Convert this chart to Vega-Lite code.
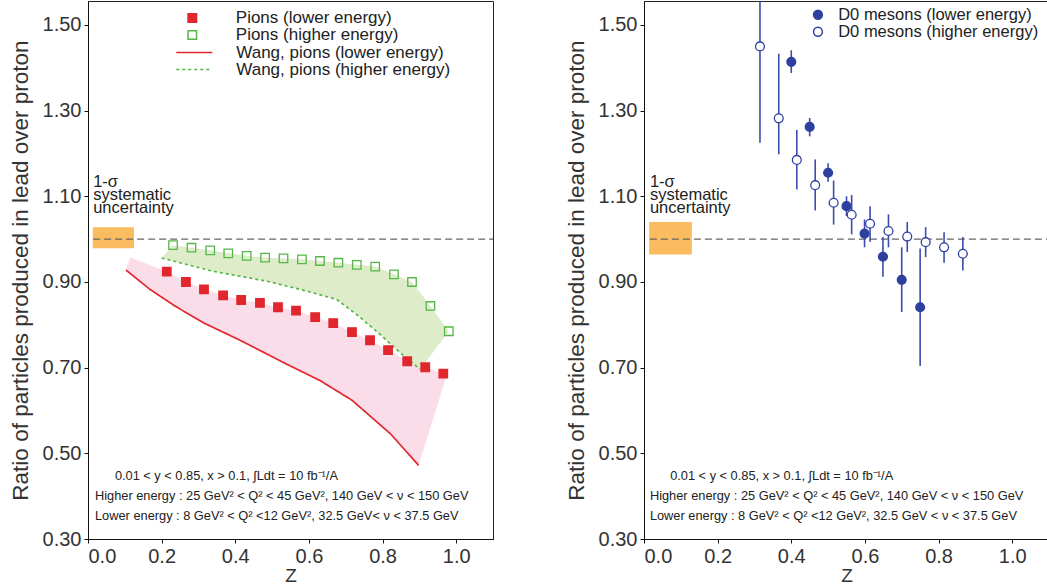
{
  "$schema": "https://vega.github.io/schema/vega-lite/v6.json",
  "background": "white",
  "padding": {"left": 8, "top": 0, "right": 0, "bottom": 0},
  "spacing": 69,
  "config": {
    "font": "Liberation Sans",
    "view": {"stroke": "#222", "strokeWidth": 1},
    "axis": {"grid": false, "domainColor": "#111", "tickColor": "#111", "tickSize": 4, "labelFontSize": 20, "labelColor": "#333", "titleColor": "#333", "titleFontWeight": "normal", "labelPadding": 3},
    "legend": {"padding": 0, "rowPadding": -2, "labelColor": "#222", "labelLimit": 400}
  },
  "resolve": {"scale": {"fill": "independent", "stroke": "independent"}, "legend": {"fill": "independent", "stroke": "independent"}},
  "datasets": {
    "pinkBand": [
      {"k": 1, "z": 0.103, "r": 0.928}, {"k": 2, "z": 0.114, "r": 0.958}, {"k": 3, "z": 0.214, "r": 0.924},
      {"k": 4, "z": 0.266, "r": 0.900}, {"k": 5, "z": 0.315, "r": 0.883}, {"k": 6, "z": 0.367, "r": 0.869},
      {"k": 7, "z": 0.416, "r": 0.858}, {"k": 8, "z": 0.467, "r": 0.851}, {"k": 9, "z": 0.516, "r": 0.841},
      {"k": 10, "z": 0.565, "r": 0.833}, {"k": 11, "z": 0.617, "r": 0.818}, {"k": 12, "z": 0.666, "r": 0.804},
      {"k": 13, "z": 0.717, "r": 0.783}, {"k": 14, "z": 0.766, "r": 0.764}, {"k": 15, "z": 0.815, "r": 0.741},
      {"k": 16, "z": 0.867, "r": 0.715}, {"k": 17, "z": 0.916, "r": 0.701}, {"k": 18, "z": 0.975, "r": 0.684},
      {"k": 19, "z": 0.898, "r": 0.472}, {"k": 20, "z": 0.821, "r": 0.546}, {"k": 21, "z": 0.717, "r": 0.624},
      {"k": 22, "z": 0.630, "r": 0.670}, {"k": 23, "z": 0.540, "r": 0.708}, {"k": 24, "z": 0.413, "r": 0.764},
      {"k": 25, "z": 0.313, "r": 0.805}, {"k": 26, "z": 0.236, "r": 0.844}, {"k": 27, "z": 0.168, "r": 0.883},
      {"k": 28, "z": 0.103, "r": 0.928}
    ],
    "greenBand": [
      {"k": 1, "z": 0.200, "r": 0.956}, {"k": 2, "z": 0.231, "r": 0.986}, {"k": 3, "z": 0.281, "r": 0.980},
      {"k": 4, "z": 0.332, "r": 0.974}, {"k": 5, "z": 0.381, "r": 0.967}, {"k": 6, "z": 0.431, "r": 0.961},
      {"k": 7, "z": 0.481, "r": 0.957}, {"k": 8, "z": 0.531, "r": 0.955}, {"k": 9, "z": 0.581, "r": 0.953},
      {"k": 10, "z": 0.630, "r": 0.949}, {"k": 11, "z": 0.680, "r": 0.945}, {"k": 12, "z": 0.730, "r": 0.940},
      {"k": 13, "z": 0.780, "r": 0.936}, {"k": 14, "z": 0.831, "r": 0.918}, {"k": 15, "z": 0.880, "r": 0.900},
      {"k": 16, "z": 0.930, "r": 0.844}, {"k": 17, "z": 0.980, "r": 0.785}, {"k": 18, "z": 0.902, "r": 0.696},
      {"k": 19, "z": 0.848, "r": 0.735}, {"k": 20, "z": 0.793, "r": 0.778}, {"k": 21, "z": 0.730, "r": 0.824},
      {"k": 22, "z": 0.676, "r": 0.859}, {"k": 23, "z": 0.594, "r": 0.879}, {"k": 24, "z": 0.485, "r": 0.902},
      {"k": 25, "z": 0.340, "r": 0.925}, {"k": 26, "z": 0.200, "r": 0.956}
    ],
    "wang": [
      {"series": "Wang, pions (lower energy)", "z": 0.103, "r": 0.928},
      {"series": "Wang, pions (lower energy)", "z": 0.168, "r": 0.883},
      {"series": "Wang, pions (lower energy)", "z": 0.236, "r": 0.844},
      {"series": "Wang, pions (lower energy)", "z": 0.313, "r": 0.805},
      {"series": "Wang, pions (lower energy)", "z": 0.413, "r": 0.764},
      {"series": "Wang, pions (lower energy)", "z": 0.540, "r": 0.708},
      {"series": "Wang, pions (lower energy)", "z": 0.630, "r": 0.670},
      {"series": "Wang, pions (lower energy)", "z": 0.717, "r": 0.624},
      {"series": "Wang, pions (lower energy)", "z": 0.821, "r": 0.546},
      {"series": "Wang, pions (lower energy)", "z": 0.898, "r": 0.472},
      {"series": "Wang, pions (higher energy)", "z": 0.200, "r": 0.956},
      {"series": "Wang, pions (higher energy)", "z": 0.340, "r": 0.925},
      {"series": "Wang, pions (higher energy)", "z": 0.485, "r": 0.902},
      {"series": "Wang, pions (higher energy)", "z": 0.594, "r": 0.879},
      {"series": "Wang, pions (higher energy)", "z": 0.676, "r": 0.859},
      {"series": "Wang, pions (higher energy)", "z": 0.730, "r": 0.824},
      {"series": "Wang, pions (higher energy)", "z": 0.793, "r": 0.778},
      {"series": "Wang, pions (higher energy)", "z": 0.848, "r": 0.735},
      {"series": "Wang, pions (higher energy)", "z": 0.902, "r": 0.696}
    ],
    "pions": [
      {"series": "Pions (lower energy)", "z": 0.214, "r": 0.924},
      {"series": "Pions (lower energy)", "z": 0.266, "r": 0.900},
      {"series": "Pions (lower energy)", "z": 0.315, "r": 0.883},
      {"series": "Pions (lower energy)", "z": 0.367, "r": 0.869},
      {"series": "Pions (lower energy)", "z": 0.416, "r": 0.858},
      {"series": "Pions (lower energy)", "z": 0.467, "r": 0.851},
      {"series": "Pions (lower energy)", "z": 0.516, "r": 0.841},
      {"series": "Pions (lower energy)", "z": 0.565, "r": 0.833},
      {"series": "Pions (lower energy)", "z": 0.617, "r": 0.818},
      {"series": "Pions (lower energy)", "z": 0.666, "r": 0.804},
      {"series": "Pions (lower energy)", "z": 0.717, "r": 0.783},
      {"series": "Pions (lower energy)", "z": 0.766, "r": 0.764},
      {"series": "Pions (lower energy)", "z": 0.815, "r": 0.741},
      {"series": "Pions (lower energy)", "z": 0.867, "r": 0.715},
      {"series": "Pions (lower energy)", "z": 0.916, "r": 0.701},
      {"series": "Pions (lower energy)", "z": 0.965, "r": 0.686},
      {"series": "Pions (higher energy)", "z": 0.231, "r": 0.986},
      {"series": "Pions (higher energy)", "z": 0.281, "r": 0.980},
      {"series": "Pions (higher energy)", "z": 0.332, "r": 0.974},
      {"series": "Pions (higher energy)", "z": 0.381, "r": 0.967},
      {"series": "Pions (higher energy)", "z": 0.431, "r": 0.961},
      {"series": "Pions (higher energy)", "z": 0.481, "r": 0.957},
      {"series": "Pions (higher energy)", "z": 0.531, "r": 0.955},
      {"series": "Pions (higher energy)", "z": 0.581, "r": 0.953},
      {"series": "Pions (higher energy)", "z": 0.630, "r": 0.949},
      {"series": "Pions (higher energy)", "z": 0.680, "r": 0.945},
      {"series": "Pions (higher energy)", "z": 0.730, "r": 0.940},
      {"series": "Pions (higher energy)", "z": 0.780, "r": 0.936},
      {"series": "Pions (higher energy)", "z": 0.831, "r": 0.918},
      {"series": "Pions (higher energy)", "z": 0.880, "r": 0.900},
      {"series": "Pions (higher energy)", "z": 0.930, "r": 0.844},
      {"series": "Pions (higher energy)", "z": 0.980, "r": 0.785}
    ],
    "d0": [
      {"series": "D0 mesons (lower energy)", "z": 0.400, "r": 1.414, "lo": 1.388, "hi": 1.441},
      {"series": "D0 mesons (lower energy)", "z": 0.450, "r": 1.262, "lo": 1.240, "hi": 1.283},
      {"series": "D0 mesons (lower energy)", "z": 0.500, "r": 1.155, "lo": 1.134, "hi": 1.177},
      {"series": "D0 mesons (lower energy)", "z": 0.550, "r": 1.077, "lo": 1.054, "hi": 1.100},
      {"series": "D0 mesons (lower energy)", "z": 0.599, "r": 1.013, "lo": 0.981, "hi": 1.046},
      {"series": "D0 mesons (lower energy)", "z": 0.649, "r": 0.959, "lo": 0.912, "hi": 1.005},
      {"series": "D0 mesons (lower energy)", "z": 0.700, "r": 0.905, "lo": 0.830, "hi": 0.981},
      {"series": "D0 mesons (lower energy)", "z": 0.750, "r": 0.841, "lo": 0.704, "hi": 0.978},
      {"series": "D0 mesons (higher energy)", "z": 0.315, "r": 1.450, "lo": 1.225, "hi": 1.675},
      {"series": "D0 mesons (higher energy)", "z": 0.366, "r": 1.282, "lo": 1.198, "hi": 1.433},
      {"series": "D0 mesons (higher energy)", "z": 0.415, "r": 1.185, "lo": 1.116, "hi": 1.255},
      {"series": "D0 mesons (higher energy)", "z": 0.465, "r": 1.126, "lo": 1.067, "hi": 1.186},
      {"series": "D0 mesons (higher energy)", "z": 0.515, "r": 1.085, "lo": 1.034, "hi": 1.137},
      {"series": "D0 mesons (higher energy)", "z": 0.564, "r": 1.057, "lo": 1.011, "hi": 1.103},
      {"series": "D0 mesons (higher energy)", "z": 0.614, "r": 1.036, "lo": 0.994, "hi": 1.077},
      {"series": "D0 mesons (higher energy)", "z": 0.664, "r": 1.019, "lo": 0.981, "hi": 1.058},
      {"series": "D0 mesons (higher energy)", "z": 0.715, "r": 1.006, "lo": 0.970, "hi": 1.040},
      {"series": "D0 mesons (higher energy)", "z": 0.765, "r": 0.993, "lo": 0.958, "hi": 1.028},
      {"series": "D0 mesons (higher energy)", "z": 0.815, "r": 0.981, "lo": 0.945, "hi": 1.016},
      {"series": "D0 mesons (higher energy)", "z": 0.866, "r": 0.966, "lo": 0.927, "hi": 1.005}
    ]
  },
  "hconcat": [
    {
      "width": 405,
      "height": 538,
      "layer": [
        {"data": {"name": "pinkBand"}, "mark": {"type": "line", "fill": "#fadde9", "strokeOpacity": 0, "strokeWidth": 0},
         "encoding": {
           "x": {"field": "z", "type": "quantitative", "scale": {"domain": [0, 1.1], "nice": false, "zero": false},
                 "axis": {"values": [0, 0.2, 0.4, 0.6, 0.8, 1.0], "format": ".1f", "title": "Z", "titleFontSize": 19, "titlePadding": 0}},
           "y": {"field": "r", "type": "quantitative", "scale": {"domain": [0.3, 1.556], "nice": false, "zero": false},
                 "axis": {"values": [0.3, 0.5, 0.7, 0.9, 1.1, 1.3, 1.5], "format": ".2f", "title": "Ratio of particles produced in lead over proton", "titleFontSize": 22.5, "titlePadding": 9.75}},
           "order": {"field": "k", "type": "quantitative"}}},
        {"data": {"name": "greenBand"}, "mark": {"type": "line", "fill": "#dfecca", "strokeOpacity": 0, "strokeWidth": 0},
         "encoding": {"x": {"field": "z", "type": "quantitative"}, "y": {"field": "r", "type": "quantitative"}, "order": {"field": "k", "type": "quantitative"}}},
        {"data": {"values": [{}]}, "mark": {"type": "rect", "color": "#fbbb5f"},
         "encoding": {"x": {"datum": 0.013, "type": "quantitative"}, "x2": {"datum": 0.125}, "y": {"datum": 0.979, "type": "quantitative"}, "y2": {"datum": 1.028}}},
        {"data": {"values": [{}]}, "mark": {"type": "rule", "color": "#666", "strokeDash": [7, 4], "strokeWidth": 1.3},
         "encoding": {"x": {"datum": 0.014, "type": "quantitative"}, "x2": {"datum": 1.1}, "y": {"datum": 1.0, "type": "quantitative"}}},
        {"data": {"name": "wang"}, "mark": {"type": "line", "strokeWidth": 1.7},
         "encoding": {
           "x": {"field": "z", "type": "quantitative"}, "y": {"field": "r", "type": "quantitative"},
           "color": {"field": "series", "type": "nominal",
                     "scale": {"domain": ["Wang, pions (lower energy)", "Wang, pions (higher energy)"], "range": ["#e1262d", "#55b748"]},
                     "legend": {"orient": "none", "legendX": 97.8, "legendY": 43, "title": null, "symbolSize": 81, "symbolType": "M-4,0H4", "symbolStrokeWidth": 1.7, "labelOffset": 33.5, "labelFontSize": 17, "rowPadding": -2}},
           "strokeDash": {"field": "series", "type": "nominal",
                          "scale": {"domain": ["Wang, pions (lower energy)", "Wang, pions (higher energy)"], "range": [[1, 0], [3, 3]]},
                          "legend": {"orient": "none", "legendX": 97.8, "legendY": 43, "title": null, "symbolSize": 81, "symbolType": "M-4,0H4", "symbolStrokeWidth": 1.7, "labelOffset": 33.5, "labelFontSize": 17, "rowPadding": -2}}
         }},
        {"data": {"name": "pions"}, "mark": {"type": "point", "shape": "square", "size": 72, "filled": true, "strokeWidth": 1.3, "opacity": 1},
         "encoding": {
           "x": {"field": "z", "type": "quantitative"}, "y": {"field": "r", "type": "quantitative"},
           "fill": {"field": "series", "type": "nominal",
                    "scale": {"domain": ["Pions (lower energy)", "Pions (higher energy)"], "range": ["#e1262d", "transparent"]},
                    "legend": {"orient": "none", "legendX": 95.8, "legendY": 8.5, "title": null, "symbolType": "square", "symbolSize": 72, "labelOffset": 35, "labelFontSize": 17, "rowPadding": -2}},
           "stroke": {"field": "series", "type": "nominal",
                      "scale": {"domain": ["Pions (lower energy)", "Pions (higher energy)"], "range": ["#e1262d", "#55b748"]},
                      "legend": {"orient": "none", "legendX": 95.8, "legendY": 8.5, "title": null, "symbolType": "square", "symbolSize": 72, "labelOffset": 35, "labelFontSize": 17, "rowPadding": -2}}
         }},
        {"data": {"values": [{}]}, "mark": {"type": "text", "text": ["1-σ", "systematic", "uncertainty"], "lineHeight": 13, "align": "left", "baseline": "alphabetic", "fontSize": 16.5, "color": "#222"},
         "encoding": {"x": {"datum": 0.014, "type": "quantitative"}, "y": {"datum": 1.122, "type": "quantitative"}}},
        {"data": {"values": [{}]}, "mark": {"type": "text", "text": "0.01 < y < 0.85, x > 0.1, ∫Ldt = 10 fb⁻¹/A", "align": "left", "baseline": "middle", "fontSize": 12.8, "color": "#222"},
         "encoding": {"x": {"datum": 0.073, "type": "quantitative"}, "y": {"datum": 0.447, "type": "quantitative"}}},
        {"data": {"values": [{}]}, "mark": {"type": "text", "text": "Higher energy : 25 GeV² < Q² < 45 GeV², 140 GeV < ν < 150 GeV", "align": "left", "baseline": "middle", "fontSize": 12.8, "color": "#222"},
         "encoding": {"x": {"datum": 0.019, "type": "quantitative"}, "y": {"datum": 0.400, "type": "quantitative"}}},
        {"data": {"values": [{}]}, "mark": {"type": "text", "text": "Lower energy  : 8 GeV² < Q² <12 GeV², 32.5 GeV< ν < 37.5 GeV", "align": "left", "baseline": "middle", "fontSize": 12.8, "color": "#222"},
         "encoding": {"x": {"datum": 0.019, "type": "quantitative"}, "y": {"datum": 0.354, "type": "quantitative"}}}
      ]
    },
    {
      "width": 405,
      "height": 538,
      "layer": [
        {"data": {"values": [{}]}, "mark": {"type": "rect", "color": "#fbbb5f"},
         "encoding": {"x": {"datum": 0.014, "type": "quantitative"}, "x2": {"datum": 0.130}, "y": {"datum": 0.964, "type": "quantitative"}, "y2": {"datum": 1.040}}},
        {"data": {"values": [{}]}, "mark": {"type": "rule", "color": "#666", "strokeDash": [7, 4], "strokeWidth": 1.3},
         "encoding": {"x": {"datum": 0.016, "type": "quantitative"}, "x2": {"datum": 1.1}, "y": {"datum": 1.0, "type": "quantitative"}}},
        {"data": {"name": "d0"}, "mark": {"type": "rule", "color": "#3a4dab", "strokeWidth": 1.6, "clip": true},
         "encoding": {
           "x": {"field": "z", "type": "quantitative", "scale": {"domain": [0, 1.1], "nice": false, "zero": false},
                 "axis": {"values": [0, 0.2, 0.4, 0.6, 0.8, 1.0], "format": ".1f", "title": "Z", "titleFontSize": 19, "titlePadding": 0}},
           "y": {"field": "lo", "type": "quantitative", "scale": {"domain": [0.3, 1.556], "nice": false, "zero": false},
                 "axis": {"values": [0.3, 0.5, 0.7, 0.9, 1.1, 1.3, 1.5], "format": ".2f", "title": "Ratio of particles produced in lead over proton", "titleFontSize": 22.5, "titlePadding": 9.75}},
           "y2": {"field": "hi"}}},
        {"data": {"name": "d0"}, "mark": {"type": "point", "shape": "circle", "size": 78, "filled": true, "strokeWidth": 1.3, "opacity": 1},
         "encoding": {
           "x": {"field": "z", "type": "quantitative"}, "y": {"field": "r", "type": "quantitative"},
           "fill": {"field": "series", "type": "nominal",
                    "scale": {"domain": ["D0 mesons (lower energy)", "D0 mesons (higher energy)"], "range": ["#2d40a0", "white"]},
                    "legend": {"orient": "none", "legendX": 165.7, "legendY": 5.5, "title": null, "symbolType": "circle", "symbolSize": 78, "labelOffset": 12, "labelFontSize": 16.5, "rowPadding": 0}},
           "stroke": {"field": "series", "type": "nominal",
                      "scale": {"domain": ["D0 mesons (lower energy)", "D0 mesons (higher energy)"], "range": ["#2d40a0", "#2d40a0"]},
                      "legend": {"orient": "none", "legendX": 165.7, "legendY": 5.5, "title": null, "symbolType": "circle", "symbolSize": 78, "labelOffset": 12, "labelFontSize": 16.5, "rowPadding": 0}}
         }},
        {"data": {"values": [{}]}, "mark": {"type": "text", "text": ["1-σ", "systematic", "uncertainty"], "lineHeight": 13, "align": "left", "baseline": "alphabetic", "fontSize": 16.5, "color": "#222"},
         "encoding": {"x": {"datum": 0.016, "type": "quantitative"}, "y": {"datum": 1.122, "type": "quantitative"}}},
        {"data": {"values": [{}]}, "mark": {"type": "text", "text": "0.01 < y < 0.85, x > 0.1, ∫Ldt = 10 fb⁻¹/A", "align": "left", "baseline": "middle", "fontSize": 12.8, "color": "#222"},
         "encoding": {"x": {"datum": 0.071, "type": "quantitative"}, "y": {"datum": 0.447, "type": "quantitative"}}},
        {"data": {"values": [{}]}, "mark": {"type": "text", "text": "Higher energy : 25 GeV² < Q² < 45 GeV², 140 GeV < ν < 150 GeV", "align": "left", "baseline": "middle", "fontSize": 12.8, "color": "#222"},
         "encoding": {"x": {"datum": 0.016, "type": "quantitative"}, "y": {"datum": 0.400, "type": "quantitative"}}},
        {"data": {"values": [{}]}, "mark": {"type": "text", "text": "Lower energy  : 8 GeV² < Q² <12 GeV², 32.5 GeV < ν < 37.5 GeV", "align": "left", "baseline": "middle", "fontSize": 12.8, "color": "#222"},
         "encoding": {"x": {"datum": 0.016, "type": "quantitative"}, "y": {"datum": 0.354, "type": "quantitative"}}}
      ]
    }
  ]
}
